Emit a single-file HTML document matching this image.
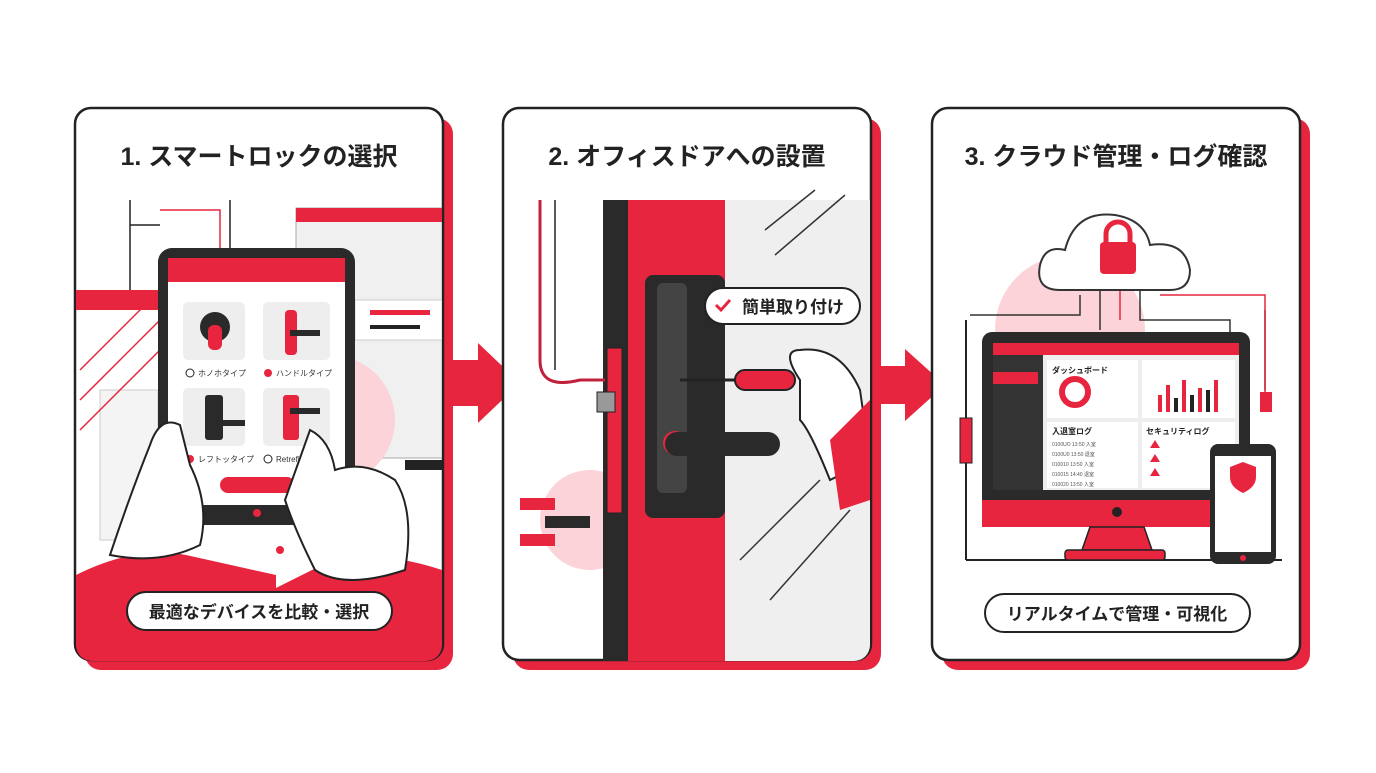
<!DOCTYPE html><html><head><meta charset="utf-8"><style>
body{margin:0;background:#fff;width:1376px;height:768px;overflow:hidden}
text{font-family:"Liberation Sans","Noto Sans CJK JP",sans-serif}
</style></head><body>
<svg width="1376" height="768" viewBox="0 0 1376 768" xmlns="http://www.w3.org/2000/svg">
<defs>
<clipPath id="c1"><rect x="76" y="109" width="366" height="552" rx="16"/></clipPath>
<clipPath id="c2"><rect x="504" y="109" width="366" height="552" rx="16"/></clipPath>
<clipPath id="c3"><rect x="933" y="109" width="366" height="552" rx="16"/></clipPath>
</defs>
<g fill="#e8253f">
<rect x="85" y="118" width="368" height="552" rx="16"/>
<rect x="513" y="118" width="368" height="552" rx="16"/>
<rect x="942" y="118" width="368" height="552" rx="16"/>
<polygon points="452,360 478,360 478,343 520,383 478,423 478,406 452,406"/>
<polygon points="881,366 905,366 905,349 945,385 905,421 905,404 881,404"/>
</g>
<g fill="#fff" stroke="#222" stroke-width="2.5">
<rect x="75" y="108" width="368" height="552" rx="16"/>
<rect x="503" y="108" width="368" height="552" rx="16"/>
<rect x="932" y="108" width="368" height="552" rx="16"/>
</g>
<g font-size="25" font-weight="bold" fill="#222" text-anchor="middle">
<text x="259" y="165">1. スマートロックの選択</text>
<text x="687" y="165">2. オフィスドアへの設置</text>
<text x="1116" y="165">3. クラウド管理・ログ確認</text>
</g>
<!-- panel 1 -->
<g clip-path="url(#c1)">
<rect x="76" y="290" width="90" height="20" fill="#e8253f"/>
<path d="M130 200v90M230 200v90M130 225h30" stroke="#222" fill="none" stroke-width="1.5"/>
<path d="M160 210h60v80" stroke="#e8253f" fill="none" stroke-width="1.5"/>
<rect x="296" y="208" width="146" height="250" fill="#f0f0f0" stroke="#aaa"/>
<rect x="296" y="208" width="146" height="14" fill="#e8253f"/>
<rect x="355" y="300" width="87" height="40" fill="#fff" stroke="#ccc"/>
<rect x="370" y="310" width="60" height="5" fill="#e8253f"/><rect x="370" y="325" width="50" height="4" fill="#222"/>
<rect x="405" y="460" width="37" height="10" fill="#222"/>
<circle cx="330" cy="420" r="65" fill="#fbd3d9"/>
<rect x="100" y="390" width="58" height="150" fill="#f4f4f4" stroke="#ccc"/>
<path d="M80 370l80-80M80 400l80-80M80 430l80-80" stroke="#e8253f" stroke-width="1.5"/>
<rect x="158" y="248" width="197" height="277" rx="14" fill="#2a2a2a"/>
<rect x="168" y="258" width="177" height="247" fill="#fff"/>
<rect x="168" y="258" width="177" height="24" fill="#e8253f"/>
<rect x="183" y="302" width="62" height="58" rx="5" fill="#eee"/><rect x="263" y="302" width="67" height="58" rx="5" fill="#eee"/>
<rect x="183" y="388" width="62" height="58" rx="5" fill="#eee"/><rect x="263" y="388" width="67" height="58" rx="5" fill="#eee"/>
<circle cx="215" cy="327" r="15" fill="#2a2a2a"/><rect x="208" y="325" width="14" height="25" rx="6" fill="#e8253f"/>
<rect x="285" y="310" width="12" height="45" rx="4" fill="#e8253f"/><rect x="290" y="330" width="30" height="6" fill="#2a2a2a"/>
<rect x="205" y="395" width="18" height="45" rx="3" fill="#2a2a2a"/><rect x="215" y="420" width="30" height="6" fill="#2a2a2a"/>
<rect x="283" y="395" width="16" height="45" rx="3" fill="#e8253f"/><rect x="290" y="408" width="30" height="6" fill="#2a2a2a"/>
<g font-size="8" fill="#333"><circle cx="190" cy="373" r="4" fill="none" stroke="#222"/><text x="198" y="376">ホノホタイプ</text>
<circle cx="268" cy="373" r="4" fill="#e8253f"/><text x="276" y="376">ハンドルタイプ</text>
<circle cx="190" cy="459" r="4" fill="#e8253f"/><text x="198" y="462">レフトッタイプ</text>
<circle cx="268" cy="459" r="4" fill="none" stroke="#222"/><text x="276" y="462">Retrefits</text></g>
<rect x="220" y="477" width="75" height="16" rx="8" fill="#e8253f"/>
<circle cx="257" cy="513" r="4" fill="#e8253f"/><circle cx="280" cy="550" r="4" fill="#e8253f"/>
<path d="M76 575 q60-30 110-20 l90 20 v90 H76z" fill="#e8253f"/>
<path d="M442 570 q-60-20-110-10 l-60 30 v80 h170z" fill="#e8253f"/>
<path d="M110 555 q20-60 40-110 q10-30 30-20 l10 40 q20 40 10 80 q-40 20-90 10z" fill="#fff" stroke="#222" stroke-width="2"/>
<path d="M310 430 q20 10 25 40 q30 -10 60 10 q20 30 10 90 q-60 20-90 0 q-20-40-30-70z" fill="#fff" stroke="#222" stroke-width="2"/>
</g>
<rect x="127" y="592" width="265" height="38" rx="19" fill="#fff" stroke="#222" stroke-width="2"/>
<text x="259" y="618" font-size="17" font-weight="bold" text-anchor="middle" fill="#222">最適なデバイスを比較・選択</text>
<!-- panel 2 -->
<g clip-path="url(#c2)">
<rect x="725" y="200" width="146" height="462" fill="#efefef"/>
<path d="M765 230l50-40M775 255l70-60M740 560l80-80M770 600l80-90" stroke="#333" stroke-width="1.5"/>
<circle cx="590" cy="520" r="50" fill="#fbd3d9"/>
<rect x="603" y="200" width="25" height="462" fill="#2a2a2a"/>
<rect x="628" y="200" width="97" height="462" fill="#e8253f"/>
<rect x="607" y="348" width="15" height="165" fill="#e8253f" stroke="#222"/>
<rect x="597" y="392" width="18" height="20" fill="#999" stroke="#222"/>
<path d="M540 200v160q0 30 40 20h25" stroke="#c1203a" stroke-width="3" fill="none"/>
<path d="M555 200v170" stroke="#222" stroke-width="1.5" fill="none"/>
<rect x="645" y="275" width="80" height="243" rx="8" fill="#2a2a2a"/>
<rect x="657" y="283" width="30" height="210" rx="6" fill="#444"/>
<circle cx="675" cy="443" r="12" fill="#e8253f"/>
<rect x="665" y="432" width="115" height="24" rx="12" fill="#2a2a2a"/>
<rect x="520" y="498" width="35" height="12" fill="#e8253f"/><rect x="545" y="516" width="45" height="12" fill="#2a2a2a"/><rect x="520" y="534" width="35" height="12" fill="#e8253f"/>
<path d="M680 380h60" stroke="#222" stroke-width="3"/>
<rect x="735" y="370" width="60" height="20" rx="10" fill="#e8253f" stroke="#222" stroke-width="2"/>
<path d="M800 380 q-20-30 0-30 q40-5 60 40 l10 70 l-40 20 q-20-50-30-60z" fill="#fff" stroke="#222" stroke-width="2"/>
<path d="M830 440 l40-40 v100 l-30 10z" fill="#e8253f"/>
</g>
<rect x="705" y="288" width="155" height="36" rx="18" fill="#fff" stroke="#222" stroke-width="2"/>
<path d="M716 305l5 5 9-10" stroke="#e8253f" stroke-width="3" fill="none"/>
<text x="742" y="313" font-size="17" font-weight="bold" fill="#222">簡単取り付け</text>
<!-- panel 3 -->
<g clip-path="url(#c3)">
<circle cx="1070" cy="330" r="75" fill="#fbd3d9"/>
<path d="M970 315h110v-20M1100 290v40M1140 290v30h90v50M1265 310v80" stroke="#333" stroke-width="1.5" fill="none"/>
<path d="M1120 290v30M1160 295h105v100" stroke="#e8253f" stroke-width="1.5" fill="none"/>
<path d="M966 320v240M966 560h316" stroke="#222" stroke-width="2" fill="none"/>
<rect x="960" y="418" width="12" height="45" fill="#e8253f" stroke="#222"/>
<rect x="1260" y="392" width="12" height="20" fill="#e8253f"/>
<path d="M1060 290 q-25 0-20-25 q5-20 25-15 q10-40 50-35 q30 5 35 30 q35-5 40 25 q0 20-20 20z" fill="#fff" stroke="#333" stroke-width="2"/>
<rect x="1100" y="242" width="36" height="32" rx="4" fill="#e8253f"/>
<path d="M1106 242v-8a12 12 0 0 1 24 0v8" stroke="#e8253f" stroke-width="5" fill="none"/>
<rect x="982" y="332" width="268" height="195" rx="10" fill="#2a2a2a"/>
<rect x="993" y="343" width="246" height="12" fill="#e8253f"/>
<rect x="993" y="355" width="50" height="135" fill="#333"/>
<rect x="993" y="372" width="45" height="12" fill="#e8253f"/>
<rect x="1043" y="355" width="196" height="135" fill="#eee"/>
<rect x="1047" y="360" width="91" height="58" fill="#fff"/><rect x="1142" y="360" width="93" height="58" fill="#fff"/>
<rect x="1047" y="422" width="91" height="66" fill="#fff"/><rect x="1142" y="422" width="93" height="66" fill="#fff"/>
<circle cx="1075" cy="392" r="13" fill="none" stroke="#e8253f" stroke-width="6"/>
<g fill="#e8253f"><rect x="1158" y="395" width="4" height="17"/><rect x="1166" y="385" width="4" height="27"/><rect x="1182" y="380" width="4" height="32"/><rect x="1198" y="388" width="4" height="24"/><rect x="1214" y="380" width="4" height="32"/></g>
<g fill="#222"><rect x="1174" y="398" width="4" height="14"/><rect x="1190" y="395" width="4" height="17"/><rect x="1206" y="390" width="4" height="22"/></g>
<g font-size="8" fill="#222" font-weight="bold"><text x="1052" y="373">ダッシュボード</text><text x="1052" y="434">入退室ログ</text><text x="1146" y="434">セキュリティログ</text></g>
<g fill="#e8253f"><polygon points="1150,448 1155,440 1160,448"/><polygon points="1150,462 1155,454 1160,462"/><polygon points="1150,476 1155,468 1160,476"/></g>
<g font-size="5" fill="#555"><text x="1052" y="446">0100UO 13:50 入室</text><text x="1052" y="456">0100U0 13:50 退室</text><text x="1052" y="466">010010 13:50 入室</text><text x="1052" y="476">010015 14:40 退室</text><text x="1052" y="486">010020 13:50 入室</text></g>
<rect x="982" y="500" width="268" height="27" fill="#e8253f"/>
<circle cx="1117" cy="512" r="5" fill="#222"/>
<polygon points="1090,527 1144,527 1152,550 1082,550" fill="#e8253f" stroke="#222" stroke-width="1.5"/>
<rect x="1065" y="550" width="100" height="10" rx="3" fill="#e8253f" stroke="#222" stroke-width="1.5"/>
<rect x="1210" y="444" width="66" height="120" rx="8" fill="#2a2a2a"/>
<rect x="1215" y="456" width="56" height="96" fill="#fff"/>
<path d="M1243 462l13 5v10q0 10-13 16q-13-6-13-16v-10z" fill="#e8253f"/>
<circle cx="1243" cy="558" r="3" fill="#e8253f"/>
</g>
<rect x="985" y="594" width="265" height="38" rx="19" fill="#fff" stroke="#222" stroke-width="2"/>
<text x="1117" y="620" font-size="17" font-weight="bold" text-anchor="middle" fill="#222">リアルタイムで管理・可視化</text>
</svg>
</body></html>
